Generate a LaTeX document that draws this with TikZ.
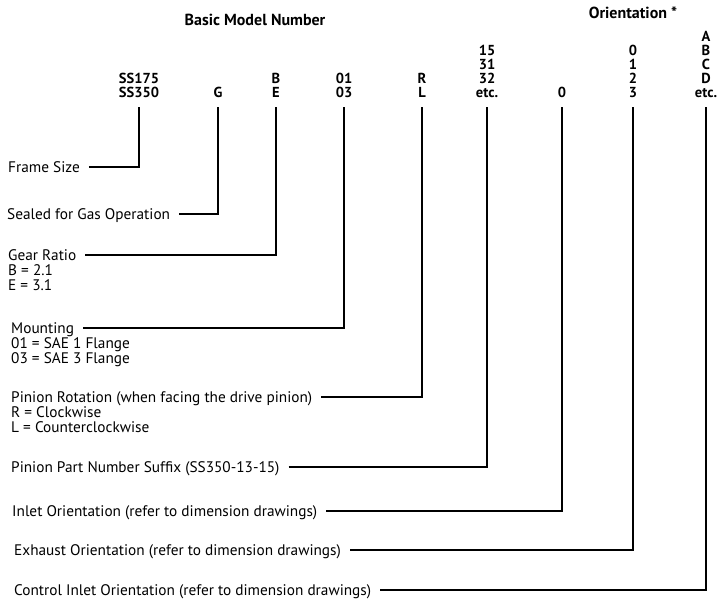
\documentclass[tikz,border=0pt]{standalone}
\usepackage{fontspec}
\setmainfont{PT Sans}
\usetikzlibrary{positioning}

\begin{document}
\begin{tikzpicture}[
    x=1pt, y=-1pt,
    head/.style={font=\bfseries\fontsize{16}{17}\selectfont, inner sep=0pt},
    code/.style={font=\bfseries\fontsize{14.5}{14}\selectfont, align=center, anchor=south, inner sep=0pt},
    desc/.style={font=\fontsize{15.3}{15}\selectfont, anchor=west, inner sep=0pt, text height=10pt, text depth=0pt},
    sub/.style={font=\fontsize{15.3}{15}\selectfont, align=left, anchor=north west, inner sep=0pt},
    lead/.style={line width=1.5pt, shorten <=9pt, shorten >=9pt}
]
\useasboundingbox (0,0) rectangle (717,599);

% headings
\node[head] (basic) at (255,20) {Basic Model Number};
\node[head] (orient) at (633,13) {Orientation *};

% model number columns
\node[code] (size)   at (139,98) {SS175\\SS350};
\node[code] (gas)    at (218,98) {G};
\node[code] (ratio)  at (276,98) {B\\E};
\node[code] (mount)  at (344,98) {01\\03};
\node[code] (rot)    at (422,98) {R\\L};
\node[code] (suffix) at (487,98) {15\\31\\32\\etc.};
\node[code] (inlet)  at (562,98) {0};
\node[code] (exh)    at (633,98) {0\\1\\2\\3};
\node[code] (ctrl)   at (706,98) {A\\B\\C\\D\\etc.};

% descriptions
\node[desc] (sizetxt)   at (8,167)  {Frame Size};
\node[desc] (gastxt)    at (7,214)  {Sealed for Gas Operation};
\node[desc] (ratiotxt)  at (8,255)  {Gear Ratio};
\node[sub]  (ratiosub)  at ([yshift=-4pt]ratiotxt.south west) {B = 2.1\\E = 3.1};
\node[desc] (mounttxt)  at (11,328) {Mounting};
\node[sub]  (mountsub)  at ([yshift=-4pt]mounttxt.south west) {01 = SAE 1 Flange\\03 = SAE 3 Flange};
\node[desc] (rottxt)    at (11,397) {Pinion Rotation (when facing the drive pinion)};
\node[sub]  (rotsub)    at ([yshift=-4pt]rottxt.south west) {R = Clockwise\\L = Counterclockwise};
\node[desc] (suffixtxt) at (11,467) {Pinion Part Number Suffix (SS350-13-15)};
\node[desc] (inlettxt)  at (12,511) {Inlet Orientation (refer to dimension drawings)};
\node[desc] (exhtxt)    at (14,550) {Exhaust Orientation (refer to dimension drawings)};
\node[desc] (ctrltxt)   at (14,590) {Control Inlet Orientation (refer to dimension drawings)};

% leader lines
\draw[lead] (sizetxt.east)   -| (size.south);
\draw[lead] (gastxt.east)    -| (gas.south);
\draw[lead] (ratiotxt.east)  -| (ratio.south);
\draw[lead] (mounttxt.east)  -| (mount.south);
\draw[lead] (rottxt.east)    -| (rot.south);
\draw[lead] (suffixtxt.east) -| (suffix.south);
\draw[lead] (inlettxt.east)  -| (inlet.south);
\draw[lead] (exhtxt.east)    -| (exh.south);
\draw[lead] (ctrltxt.east)   -| (ctrl.south);

\end{tikzpicture}
\end{document}
